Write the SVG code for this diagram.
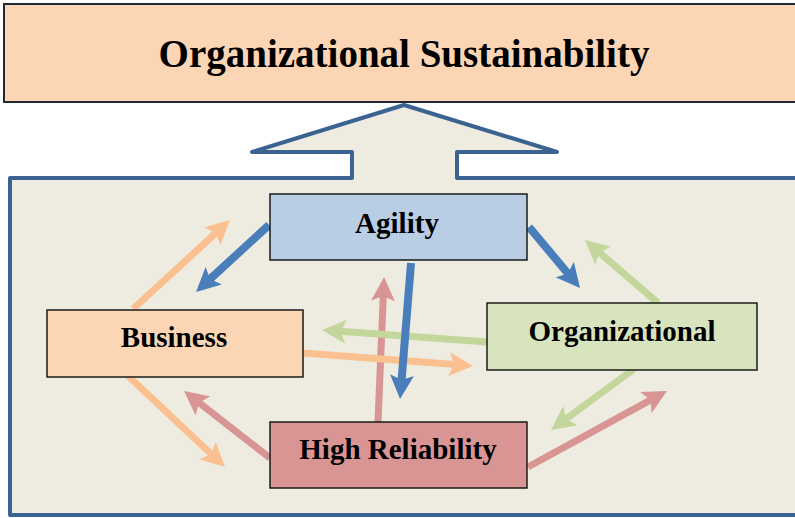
<svg xmlns="http://www.w3.org/2000/svg" width="795" height="518" viewBox="0 0 795 518">
<style>
.box{stroke:#1a1a1a;stroke-width:1.5}
.lbl{font-family:"Liberation Serif","Times New Roman",serif;font-weight:bold;fill:#000;text-anchor:middle}
.c{fill:none;stroke-width:7}
.or{stroke:#FAC090}.bl{stroke:#4A7EBB;stroke-width:8}.gr{stroke:#C3D69B}.rd{stroke:#D99594}
</style>
<defs>
<marker id="mOr" viewBox="0 0 24 24" refX="6" refY="12" markerWidth="24" markerHeight="24" markerUnits="userSpaceOnUse" orient="auto"><path d="M0,0 L24,12 L0,24 L5,12 Z" fill="#FAC090"/></marker>
<marker id="mBl" viewBox="0 0 24 24" refX="6" refY="12" markerWidth="24" markerHeight="24" markerUnits="userSpaceOnUse" orient="auto"><path d="M0,0 L24,12 L0,24 L5,12 Z" fill="#4A7EBB"/></marker>
<marker id="mGr" viewBox="0 0 24 24" refX="6" refY="12" markerWidth="24" markerHeight="24" markerUnits="userSpaceOnUse" orient="auto"><path d="M0,0 L24,12 L0,24 L5,12 Z" fill="#C3D69B"/></marker>
<marker id="mRd" viewBox="0 0 24 24" refX="6" refY="12" markerWidth="24" markerHeight="24" markerUnits="userSpaceOnUse" orient="auto"><path d="M0,0 L24,12 L0,24 L5,12 Z" fill="#D99594"/></marker>
</defs>
<rect width="795" height="518" fill="#ffffff"/>
<g id="title">
<rect x="4" y="4" width="800" height="98" fill="#FCD5B4" stroke="#1f2a36" stroke-width="2"/>
<text class="lbl" x="404" y="67" font-size="39">Organizational Sustainability</text>
</g>
<g id="container">
<path d="M10,178 L352,178 L352,152 L252,152 L404,105 L557,152 L457,152 L457,178 L810,178 L810,515 L10,515 Z" fill="#EEECE1" stroke="#3B6392" stroke-width="4" stroke-linejoin="round"/>
</g>
<g id="connectors">
<line class="c rd" x1="270" y1="458" x2="198.2" y2="402.1" marker-end="url(#mRd)"/>
<line class="c rd" x1="378" y1="422" x2="383.3" y2="295" marker-end="url(#mRd)"/>
<line class="c rd" x1="528" y1="467" x2="651.2" y2="399.6" marker-end="url(#mRd)"/>
<line class="c or" x1="133" y1="309" x2="216.7" y2="232.2" marker-end="url(#mOr)"/>
<line class="c or" x1="125" y1="373" x2="211.9" y2="454.7" marker-end="url(#mOr)"/>
<line class="c or" x1="303" y1="353" x2="455.1" y2="364.6" marker-end="url(#mOr)"/>
<line class="c gr" x1="487" y1="342" x2="339.9" y2="331.3" marker-end="url(#mGr)"/>
<line class="c gr" x1="658" y1="303" x2="598.6" y2="251.8" marker-end="url(#mGr)"/>
<line class="c gr" x1="634" y1="369" x2="565.5" y2="419.3" marker-end="url(#mGr)"/>
<line class="c bl" x1="269" y1="225" x2="209.3" y2="279.8" marker-end="url(#mBl)"/>
<line class="c bl" x1="411" y1="263" x2="401.5" y2="381.1" marker-end="url(#mBl)"/>
<line class="c bl" x1="529" y1="227" x2="568.5" y2="274.2" marker-end="url(#mBl)"/>
</g>
<g id="agility">
<rect class="box" x="270" y="194" width="257" height="66" fill="#B9CDE5"/>
<text class="lbl" x="397" y="233" font-size="29">Agility</text>
</g>
<g id="business">
<rect class="box" x="47" y="310" width="256" height="67" fill="#FCD5B4"/>
<text class="lbl" x="174" y="347" font-size="29">Business</text>
</g>
<g id="organizational">
<rect class="box" x="487" y="303" width="270" height="67" fill="#D7E4BD"/>
<text class="lbl" x="622" y="341" font-size="29">Organizational</text>
</g>
<g id="high-reliability">
<rect class="box" x="270" y="422" width="257" height="66" fill="#D99594"/>
<text class="lbl" x="398" y="459" font-size="29">High Reliability</text>
</g>
</svg>
